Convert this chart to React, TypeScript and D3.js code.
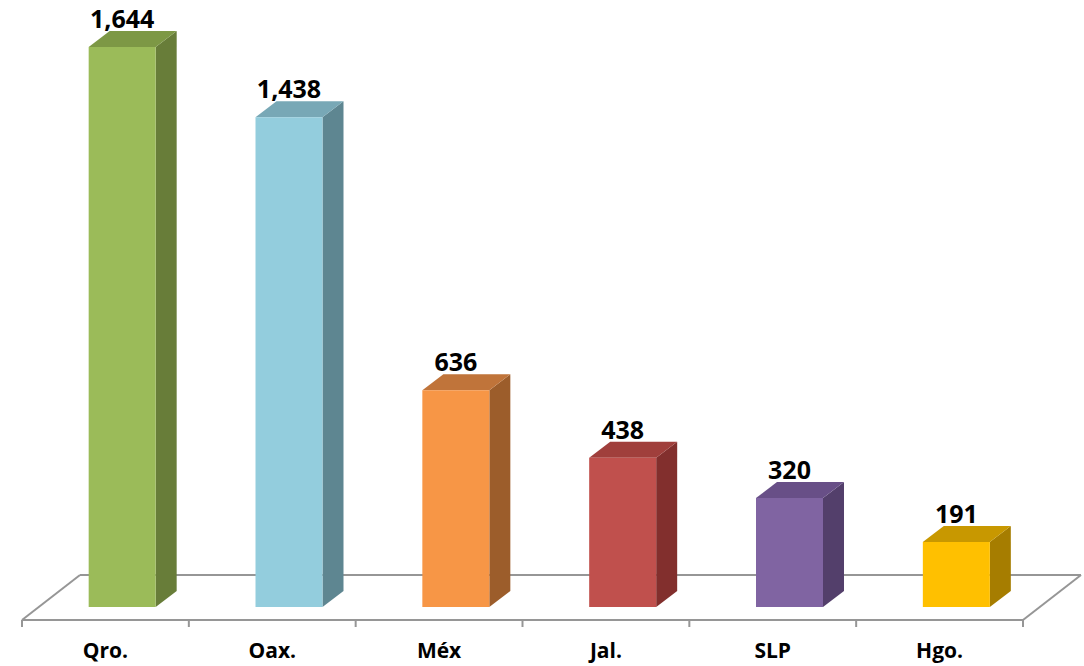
import React from 'react'
import * as d3 from 'd3'

const categories = ['Qro.', 'Oax.', 'Méx', 'Jal.', 'SLP', 'Hgo.']
const values = [1644, 1438, 636, 438, 320, 191]
const frontColors = ['#9BBB59', '#93CDDD', '#F79646', '#C0504D', '#8064A2', '#FFC000']
const sideColors = ['#687D39', '#5E8691', '#9C5D2B', '#822F2D', '#533F6B', '#A67D00']
const topColors = ['#7D9845', '#78A8B6', '#C0743A', '#A03F3C', '#684F87', '#C89800']

const width = 1084,
    height = 666

// floor geometry (front edge + depth offset)
const floorLeft = 22,
    floorRight = 1023,
    floorFrontY = 620,
    floorDx = 58,
    floorDy = -45

// bar geometry
const barBase = 607,
    barTopValueY = 47,
    barW = 67,
    barDx = 21,
    barDy = -16

const App = () => {
    const xScale = d3.scaleBand().domain(categories).range([floorLeft, floorRight]).padding(0)
    const yScale = d3.scaleLinear().domain([0, d3.max(values) as number]).range([barBase, barTopValueY])

    // shift for bar front plane inside the floor depth
    const depthShift = ((floorFrontY - barBase) / -floorDy) * floorDx

    const ticks = categories.map((c) => xScale(c) as number).concat([floorRight])

    return (
        <svg width={width} height={height} style={{ position: 'absolute', left: 0, top: 0, background: '#fff' }}>
            <g stroke='#969696' strokeWidth={2} fill='none'>
                <line x1={floorLeft + floorDx} y1={floorFrontY + floorDy} x2={floorRight + floorDx} y2={floorFrontY + floorDy} />
                <line x1={floorLeft} y1={floorFrontY} x2={floorLeft + floorDx} y2={floorFrontY + floorDy} />
                <line x1={floorRight} y1={floorFrontY} x2={floorRight + floorDx} y2={floorFrontY + floorDy} />
                <line x1={floorLeft} y1={floorFrontY} x2={floorRight} y2={floorFrontY} />
                {ticks.map((t, i) => (
                    <line key={i} x1={t} y1={floorFrontY} x2={t} y2={floorFrontY + 7} />
                ))}
            </g>
            {categories.map((c, i) => {
                const cx = (xScale(c) as number) + xScale.bandwidth() / 2 + depthShift
                const x0 = cx - barW / 2,
                    x1 = cx + barW / 2
                const yT = yScale(values[i])
                const front = `M${x0},${barBase}L${x1},${barBase}L${x1},${yT}L${x0},${yT}Z`
                const side = `M${x1},${barBase}L${x1 + barDx},${barBase + barDy}L${x1 + barDx},${yT + barDy}L${x1},${yT}Z`
                const top = `M${x0},${yT}L${x1},${yT}L${x1 + barDx},${yT + barDy}L${x0 + barDx},${yT + barDy}Z`
                return (
                    <g key={c}>
                        <path d={side} fill={sideColors[i]} />
                        <path d={top} fill={topColors[i]} />
                        <path d={front} fill={frontColors[i]} />
                        <text
                            x={cx}
                            y={yT + barDy - 3}
                            textAnchor='middle'
                            fontFamily='Open Sans, sans-serif'
                            fontWeight='bold'
                            fontSize={25}
                            fill='#000'
                        >
                            {d3.format(',')(values[i])}
                        </text>
                    </g>
                )
            })}
            {categories.map((c) => (
                <text
                    key={c}
                    x={(xScale(c) as number) + xScale.bandwidth() / 2}
                    y={658}
                    textAnchor='middle'
                    fontFamily='Open Sans, sans-serif'
                    fontWeight='bold'
                    fontSize={21}
                    fill='#000'
                >
                    {c}
                </text>
            ))}
        </svg>
    )
}

export default App
